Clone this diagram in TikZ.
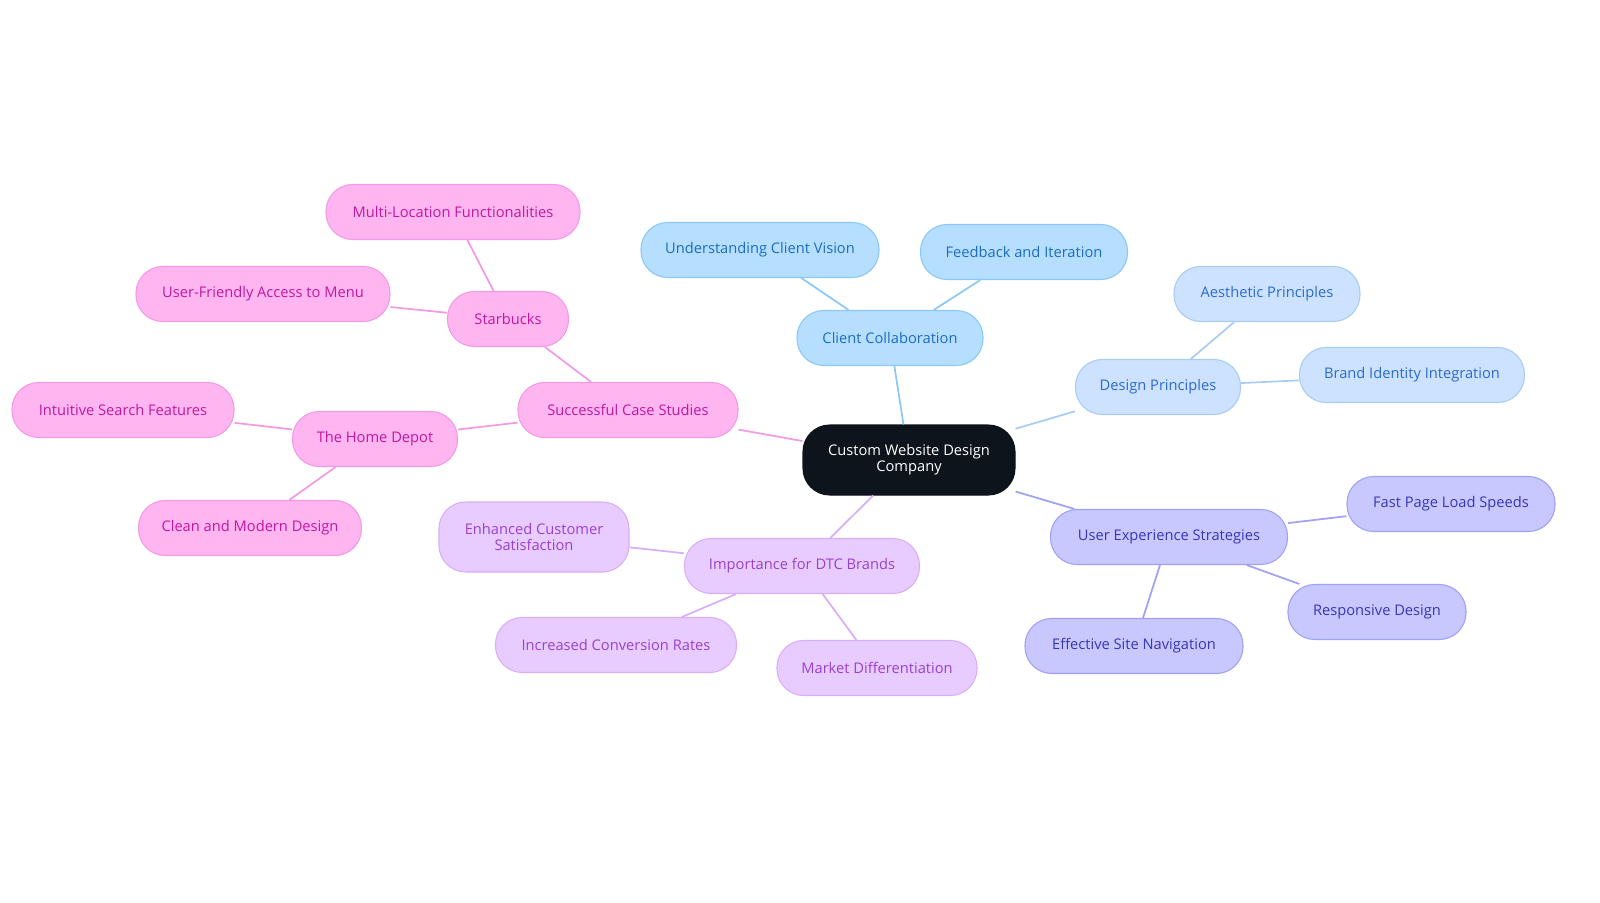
\documentclass[tikz,border=0pt]{standalone}
\usepackage{fontspec}
\setmainfont{Open Sans}
\begin{document}
\begin{tikzpicture}[x=0.75pt,y=-0.75pt,
 base/.style={rounded corners=20pt,minimum height=55*0.75pt,inner xsep=4pt,font=\fontsize{11}{11.5}\selectfont,line width=0.8pt,align=center},
 pk/.style={base,fill=pkF,draw=pkD,text=pkT},
 bl/.style={base,fill=blF,draw=blD,text=blT},
 lb/.style={base,fill=lbF,draw=lbD,text=lbT},
 pu/.style={base,fill=puF,draw=puD,text=puT},
 lv/.style={base,fill=lvF,draw=lvD,text=lvT},
 e/.style={line width=1.3pt}]
\definecolor{pkF}{HTML}{FFB5F0}\definecolor{pkD}{HTML}{F29AE4}\definecolor{pkT}{HTML}{C0189F}
\definecolor{blF}{HTML}{B5DEFF}\definecolor{blD}{HTML}{8CC8F5}\definecolor{blT}{HTML}{1C6DC0}
\definecolor{lbF}{HTML}{CCE2FF}\definecolor{lbD}{HTML}{A8CCF5}\definecolor{lbT}{HTML}{2C6AD0}
\definecolor{puF}{HTML}{C8C8FF}\definecolor{puD}{HTML}{A0A0F5}\definecolor{puT}{HTML}{3636B8}
\definecolor{lvF}{HTML}{E8CCFF}\definecolor{lvD}{HTML}{D8AEF8}\definecolor{lvT}{HTML}{9A40D0}
\definecolor{dk}{HTML}{0E141C}
\useasboundingbox (0,0) rectangle (1600,903);
\node[base,fill=dk,draw=dk,text=white,minimum width=212*0.75pt,minimum height=70*0.75pt,font=\fontsize{11}{12}\selectfont] (c) at (909,460) {Custom Website Design\\Company};
\node[bl,minimum width=186*0.75pt] (cc) at (890,338) {Client Collaboration};
\node[bl,minimum width=238*0.75pt] (ucv) at (760,250) {Understanding Client Vision};
\node[bl,minimum width=207*0.75pt] (fi) at (1024,252) {Feedback and Iteration};
\node[lb,minimum width=165*0.75pt] (dp) at (1158,387) {Design Principles};
\node[lb,minimum width=186*0.75pt] (ap) at (1267,294) {Aesthetic Principles};
\node[lb,minimum width=225*0.75pt] (bii) at (1412,375) {Brand Identity Integration};
\node[pu,minimum width=237*0.75pt] (ux) at (1169,537) {User Experience Strategies};
\node[pu,minimum width=208*0.75pt] (fp) at (1451,504) {Fast Page Load Speeds};
\node[pu,minimum width=178*0.75pt] (rd) at (1377,612) {Responsive Design};
\node[pu,minimum width=218*0.75pt] (esn) at (1134,646) {Effective Site Navigation};
\node[lv,minimum width=235*0.75pt] (dtc) at (802,566) {Importance for DTC Brands};
\node[lv,minimum width=190*0.75pt,minimum height=70*0.75pt,font=\fontsize{11}{12}\selectfont] (ecs) at (534,537) {Enhanced Customer\\Satisfaction};
\node[lv,minimum width=241*0.75pt] (icr) at (616,645) {Increased Conversion Rates};
\node[lv,minimum width=200*0.75pt] (md) at (877,668) {Market Differentiation};
\node[pk,minimum width=220*0.75pt] (scs) at (628,410) {Successful Case Studies};
\node[pk,minimum width=121*0.75pt] (sb) at (508,319) {Starbucks};
\node[pk,minimum width=254*0.75pt] (mlf) at (453,212) {Multi-Location Functionalities};
\node[pk,minimum width=254*0.75pt] (ufa) at (263,294) {User-Friendly Access to Menu};
\node[pk,minimum width=165*0.75pt] (thd) at (375,439) {The Home Depot};
\node[pk,minimum width=222*0.75pt] (isf) at (123,410) {Intuitive Search Features};
\node[pk,minimum width=223*0.75pt] (cmd) at (250,528) {Clean and Modern Design};
\begin{scope}[e]
\draw[blD] (c)--(cc) (cc)--(ucv) (cc)--(fi);
\draw[lbD] (c)--(dp) (dp)--(ap) (dp)--(bii);
\draw[puD] (c)--(ux) (ux)--(fp) (ux)--(rd) (ux)--(esn);
\draw[lvD] (c)--(dtc) (dtc)--(ecs) (dtc)--(icr) (dtc)--(md);
\draw[pkD] (c)--(scs) (scs)--(sb) (sb)--(mlf) (sb)--(ufa) (scs)--(thd) (thd)--(isf) (thd)--(cmd);
\end{scope}
\end{tikzpicture}
\end{document}
